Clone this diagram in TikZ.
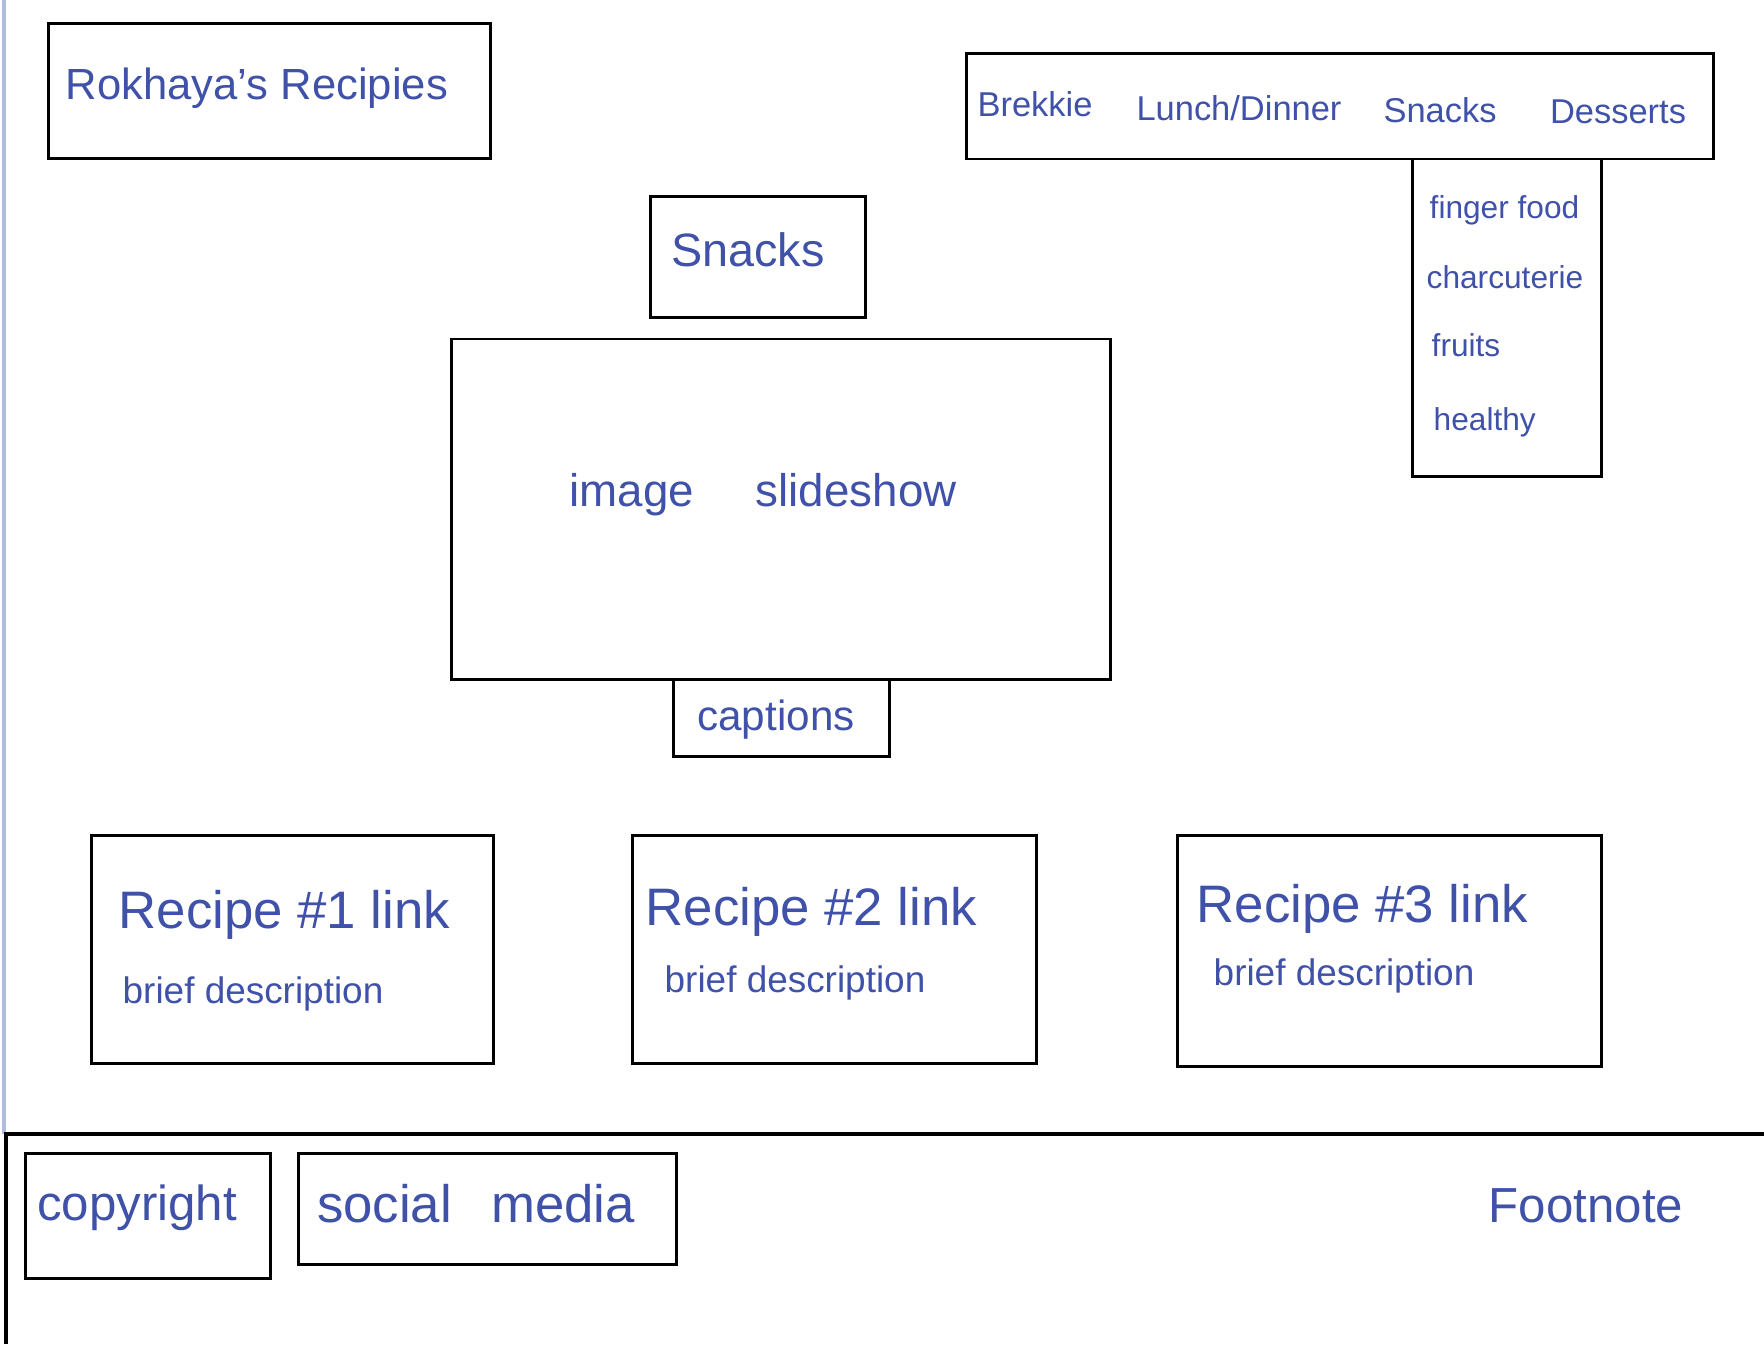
\documentclass[tikz,border=0pt]{standalone}
\usepackage{fontspec}
\setmainfont{Liberation Sans}
\usetikzlibrary{positioning}
\definecolor{ink}{RGB}{63,81,168}
\definecolor{margin}{RGB}{175,188,218}
\tikzset{
  box/.style    = {draw, line width=0.8pt, rectangle, inner sep=0pt,
                   anchor=north west},
  hand/.style   = {text=ink, inner sep=0pt},
  big/.style    = {hand, font=\fontsize{15}{15}\selectfont},
  mid/.style    = {hand, font=\fontsize{13}{13}\selectfont},
  small/.style  = {hand, font=\fontsize{10.5}{10.5}\selectfont},
  navitem/.style = {hand, font=\fontsize{9.8}{9.8}\selectfont},
  tiny/.style   = {hand, font=\fontsize{9}{9}\selectfont, anchor=base west}
}

\begin{document}
\begin{tikzpicture}[x=0.01cm, y=-0.01cm]
\useasboundingbox (0,0) rectangle (1764,1344);

% margin of the page and the footer band
\coordinate (mtop) at (4,0);
\coordinate (mbot) at (4,1134);
\draw[margin, line width=0.9pt] (mtop) -- (mbot);
\coordinate (fleft) at (6,1134);
\coordinate (fright) at (1764,1134);
\coordinate (fbot) at (6,1344);
\draw[line width=1pt] (fright) -- (fleft) -- (fbot);

% header
\node[box, minimum width=4.42cm, minimum height=1.35cm] (title) at (47,22) {};
\node[hand, font=\fontsize{12.4}{12.4}\selectfont] (titletext) at (257,88) {Rokhaya's Recipies};

\node[box, minimum width=7.47cm, minimum height=1.055cm] (nav) at (965,52) {};
\node[navitem] (brekkie) at (1035,104) {Brekkie};
\node[navitem] (lunch)   at (1239,108) {Lunch/Dinner};
\node[navitem] (snacks)  at (1440,110) {Snacks};
\node[navitem] (dessert) at (1618,112) {Desserts};

% drop down under Snacks
\node[box, minimum width=1.89cm, minimum height=3.175cm] (drop) at (1411,157.5) {};
\node[tiny] (d1) at (1429,218) {finger food};
\node[tiny] (d2) at (1426,288) {charcuterie};
\node[tiny] (d3) at (1431,356) {fruits};
\node[tiny] (d4) at (1433,430) {healthy};

% page heading and slideshow
\node[box, minimum width=2.15cm, minimum height=1.21cm] (heading) at (649,195) {};
\node[hand, font=\fontsize{13.3}{13.3}\selectfont] (headtext) at (748,250) {Snacks};

\node[box, minimum width=6.59cm, minimum height=3.405cm] (slides) at (450,337.5) {};
\node[hand, font=\fontsize{13}{13}\selectfont] (slidetext) at (763,495) {image\hspace{14pt} slideshow};

\node[box, minimum width=2.16cm, minimum height=0.77cm] (caption) at (672,678) {};
\node[hand, font=\fontsize{12}{12}\selectfont] (captext) at (776,720) {captions};

% recipe cards
\foreach \n/\x/\w/\h/\tx/\ty/\bx/\by in {
    1/90/4.02/2.28/118/928/122/1003,
    2/631/4.04/2.28/645/925/664/992,
    3/1176/4.24/2.31/1196/922/1213/985} {
  \node[box, minimum width=\w cm, minimum height=\h cm] (r\n) at (\x,834) {};
  \node[big, anchor=base west] (r\n link) at (\tx,\ty) {Recipe \#\n\ link};
  \node[small, anchor=base west] (r\n desc) at (\bx,\by) {brief description};
}

% footer
\node[box, minimum width=2.45cm, minimum height=1.25cm] (copy) at (24,1152) {};
\node[hand, font=\fontsize{14}{14}\selectfont] (copytext) at (137,1208) {copyright};

\node[box, minimum width=3.78cm, minimum height=1.11cm] (social) at (297,1152) {};
\node[big] (socialtext) at (476,1204) {social\hspace{7pt} media};

\node[hand, font=\fontsize{14}{14}\selectfont] (foot) at (1586,1206) {Footnote};
\end{tikzpicture}
\end{document}
